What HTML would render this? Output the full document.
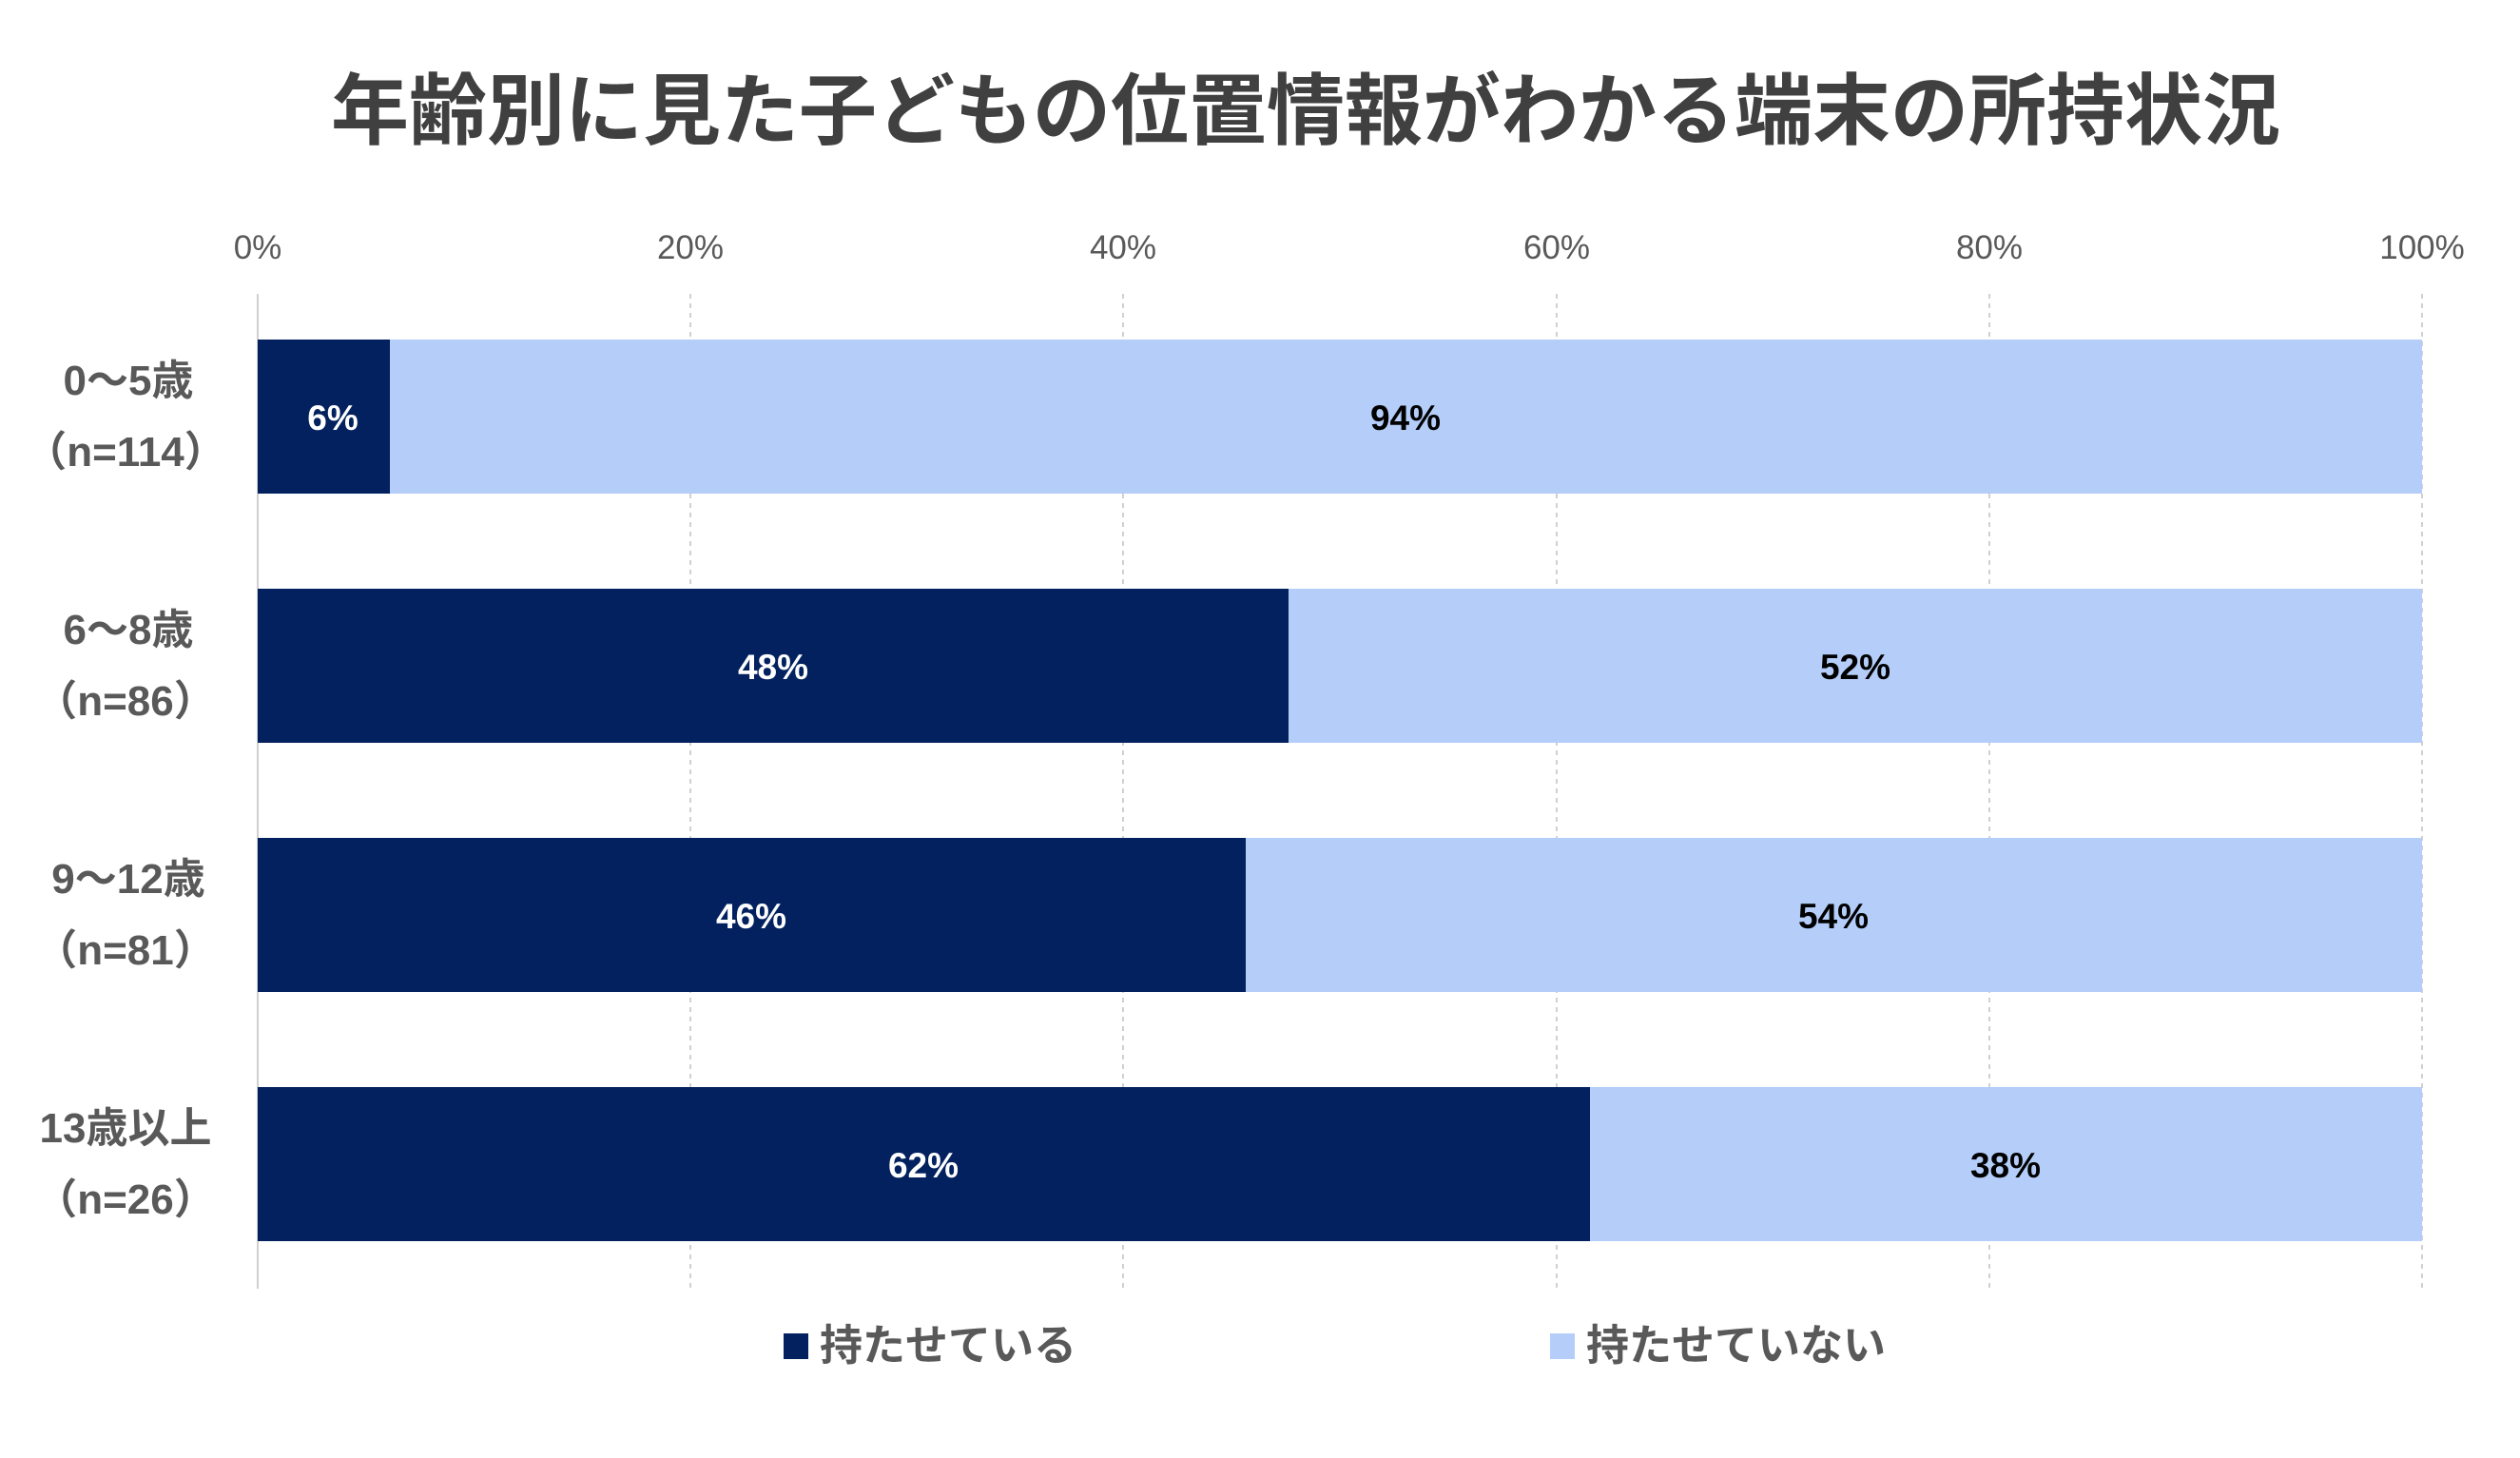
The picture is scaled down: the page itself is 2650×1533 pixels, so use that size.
<!DOCTYPE html>
<html><head><meta charset="utf-8"><style>
html,body{margin:0;padding:0;background:#fff}
svg{display:block}
text{font-family:"Liberation Sans","Noto Sans CJK JP",sans-serif}
</style></head><body>
<svg width="2650" height="1533" viewBox="0 0 2650 1533" xmlns="http://www.w3.org/2000/svg">
<rect width="2650" height="1533" fill="#fff"/>
<text x="1373" y="145" text-anchor="middle" font-size="82" font-weight="bold" fill="#404040">年齢別に見た子どもの位置情報がわかる端末の所持状況</text>
<g font-size="35" fill="#595959" text-anchor="middle">
<text x="271" y="272">0%</text><text x="726" y="272">20%</text><text x="1181" y="272">40%</text>
<text x="1637" y="272">60%</text><text x="2092" y="272">80%</text><text x="2547" y="272">100%</text>
</g>
<g stroke="#d0d0d0" stroke-width="2" stroke-dasharray="5,5">
<line x1="726" y1="309" x2="726" y2="1355"/><line x1="1181" y1="309" x2="1181" y2="1355"/>
<line x1="1637" y1="309" x2="1637" y2="1355"/><line x1="2092" y1="309" x2="2092" y2="1355"/>
<line x1="2547" y1="309" x2="2547" y2="1355"/>
</g>
<line x1="271" y1="309" x2="271" y2="1355" stroke="#d0d0d0" stroke-width="2"/>
<g>
<rect x="271" y="357" width="139" height="162" fill="#02215E"/><rect x="410" y="357" width="2137" height="162" fill="#B4CEF9"/>
<rect x="271" y="619" width="1084" height="162" fill="#02215E"/><rect x="1355" y="619" width="1192" height="162" fill="#B4CEF9"/>
<rect x="271" y="881" width="1039" height="162" fill="#02215E"/><rect x="1310" y="881" width="1237" height="162" fill="#B4CEF9"/>
<rect x="271" y="1143" width="1401" height="162" fill="#02215E"/><rect x="1672" y="1143" width="875" height="162" fill="#B4CEF9"/>
</g>
<g font-size="37" font-weight="bold" text-anchor="middle">
<text x="350" y="452" fill="#fff">6%</text><text x="1478" y="452" fill="#000">94%</text>
<text x="813" y="714" fill="#fff">48%</text><text x="1951" y="714" fill="#000">52%</text>
<text x="790" y="976" fill="#fff">46%</text><text x="1928" y="976" fill="#000">54%</text>
<text x="971" y="1238" fill="#fff">62%</text><text x="2109" y="1238" fill="#000">38%</text>
</g>
<g font-size="44" font-weight="bold" fill="#595959" text-anchor="middle">
<text x="135" y="415">0～5歳</text><text x="132" y="490">（n=114）</text>
<text x="135" y="677">6～8歳</text><text x="132" y="752">（n=86）</text>
<text x="135" y="939">9～12歳</text><text x="132" y="1014">（n=81）</text>
<text x="132" y="1201">13歳以上</text><text x="132" y="1276">（n=26）</text>
</g>
<rect x="824" y="1402" width="26" height="27" fill="#02215E"/>
<rect x="1630" y="1402" width="26" height="27" fill="#B4CEF9"/>
<g font-size="45" font-weight="bold" fill="#595959">
<text x="862" y="1430">持たせている</text>
<text x="1668" y="1430">持たせていない</text>
</g>
</svg>
</body></html>
